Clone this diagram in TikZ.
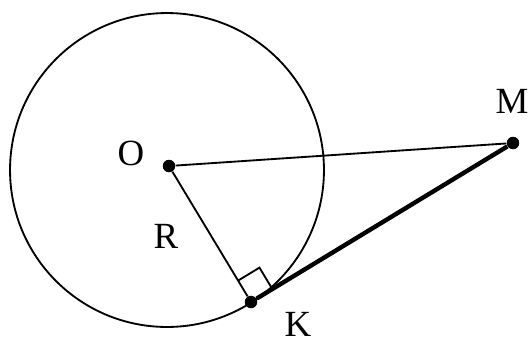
\documentclass[tikz,border=0pt]{standalone}
\usepackage{fontspec}
\setmainfont{Liberation Serif}
\usetikzlibrary{calc}
\tikzset{
  dot/.style={circle, fill=black, inner sep=0pt, minimum size=0.25cm},
  lbl/.style={font=\fontsize{21}{24}\selectfont, inner sep=0pt},
  thinline/.style={line width=1.05pt},
  tangent/.style={line width=2.5pt}
}
\begin{document}
\begin{tikzpicture}[x=0.02cm,y=-0.02cm]
\def\R{3.14cm}
\def\sq{0.5cm}
\useasboundingbox (0,0) rectangle (532,343);

%circle
\draw[thinline] (167,170) circle [radius=\R];

%points
\node[dot] (O) at (169,166) {};
\node[dot] (K) at (251,302) {};
\node[dot] (M) at (513,143) {};

%labels
\node[lbl] (lO) at (131,153) {O};
\node[lbl] (lM) at (512,101) {M};
\node[lbl] (lR) at (166,236) {R};
\node[lbl] (lK) at (298,324) {K};

%segments
\draw[thinline] (O) -- (M);
\draw[thinline] (O) -- (K);
\draw[tangent] (K) -- (M);

%right angle at K
\coordinate (a) at ($(K.center)!\sq!(O.center)$);
\coordinate (b) at ($(K.center)!\sq!(M.center)$);
\draw[thinline] (a) -- ($(a)+(b)-(K.center)$) -- (b);
\end{tikzpicture}
\end{document}
